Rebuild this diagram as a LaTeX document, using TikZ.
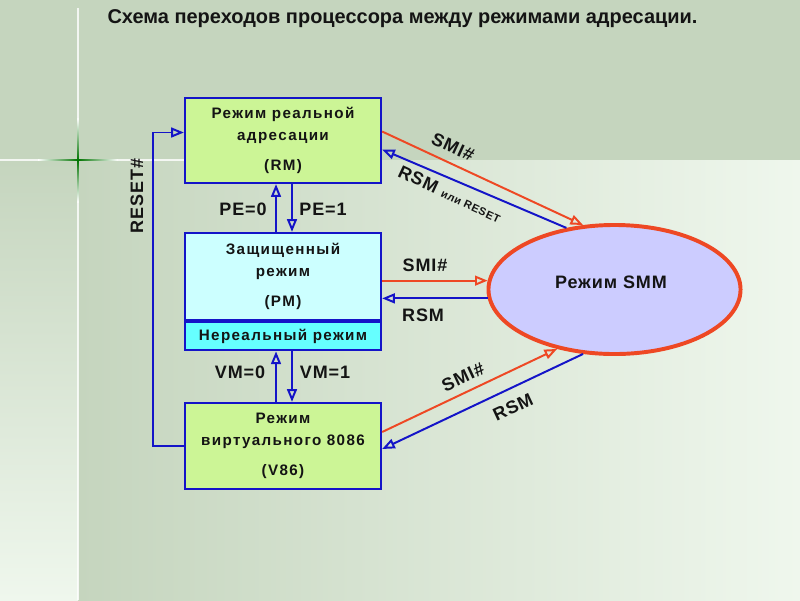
\documentclass[tikz,border=0pt]{standalone}
\usepackage{fontspec}
\setmainfont{Liberation Sans}
\newfontfamily\wideface{Liberation Sans}[LetterSpace=9]
\newfontfamily\tagface{Liberation Sans}[LetterSpace=5]
\usepackage{tikz}
\usetikzlibrary{positioning, arrows.meta, shapes.geometric, calc}
\definecolor{slide}{RGB}{197,213,190}
\definecolor{pale}{RGB}{239,247,237}
\definecolor{lime}{RGB}{204,245,150}
\definecolor{ice}{RGB}{204,255,255}
\definecolor{aqua}{RGB}{102,255,255}
\definecolor{edge}{RGB}{20,20,200}
\definecolor{hot}{RGB}{238,72,36}
\definecolor{lilac}{RGB}{204,204,255}
\definecolor{ink}{RGB}{20,20,20}

\begin{document}
\begin{tikzpicture}[
  x=0.025cm, y=-0.025cm,
  mode/.style={draw=edge, line width=1.6pt, minimum width=4.9cm, inner sep=0pt,
               align=center, text=ink,
               font=\wideface\bfseries\fontsize{10.8}{15.6}\selectfont},
  tag/.style={text=ink, font=\tagface\bfseries\fontsize{12.8}{15}\selectfont},
  blueline/.style={draw=edge, line width=1.4pt, -{Triangle[open, length=9pt, width=7pt]}},
  redline/.style={draw=hot, line width=1.4pt, -{Triangle[open, length=9pt, width=7pt]}},
]
  % slide background
  \useasboundingbox (0,0) rectangle (800,600);
  \fill[slide] (0,0) rectangle (800,160);
  \shade[left color=slide, middle color=slide!40!pale, right color=pale] (78,160) rectangle (800,600);
  \shade[top color=slide, bottom color=pale] (0,160) rectangle (78,600);
  \draw[white, line width=0.8pt, opacity=0.8] (78,8) -- (78,600);
  \draw[white, line width=0.8pt, opacity=0.8] (0,160) -- (185,160);
  \shade[left color=white, right color=white, middle color=green!45!black] (38,159.3) rectangle (118,160.7);
  \shade[top color=white, bottom color=white, middle color=green!45!black] (77.3,118) rectangle (78.7,202);

  \node[text=ink, font=\bfseries\fontsize{14.2}{17}\selectfont] (title) at (402.5,19)
    {Схема переходов процессора между режимами адресации.};

  % modes
  \node[mode, fill=lime, minimum height=2.125cm] (rm) at (283,140.5)
    {Режим реальной\\ адресации\\[5.7pt] (RM)};
  \node[mode, fill=ice, minimum height=2.175cm] (pm) at (283,276.5)
    {Защищенный\\ режим\\[5.7pt] (PM)};
  \node[mode, fill=aqua, minimum height=0.7cm, anchor=north] (unreal) at (pm.south)
    {Нереальный режим};
  \node[mode, fill=lime, minimum height=2.15cm] (v86) at (283,446)
    {Режим\\ виртуального 8086\\[5.7pt] (V86)};
  \node[ellipse, draw=hot, line width=2.8pt, fill=lilac, inner sep=0pt,
        minimum width=6.3cm, minimum height=3.225cm] (smm) at (614.5,289.5) {};
  \node[tag] (smmname) at (611,282) {Режим SMM};

  % PE and VM switching
  \draw[blueline] ($(pm.north)+(-7,0)$) -- ($(rm.south)+(-7,0)$);
  \draw[blueline] ($(rm.south)+(9,0)$) -- ($(pm.north)+(9,0)$);
  \draw[blueline] ($(v86.north)+(-7,0)$) -- ($(unreal.south)+(-7,0)$);
  \draw[blueline] ($(unreal.south)+(9,0)$) -- ($(v86.north)+(9,0)$);
  \node[tag] (pezero) at (243,209) {PE=0};
  \node[tag] (peone) at (323,209) {PE=1};
  \node[tag] (vmzero) at (240,372) {VM=0};
  \node[tag] (vmone) at (325,372) {VM=1};

  % reset loop
  \draw[blueline] (v86.west) -- ++(-31,0) |- ($(rm.west)+(0,-8)$);
  \node[tag, rotate=90] (resetname) at (137,196) {RESET\#};

  % SMM entry and exit
  \draw[redline] ($(rm.east)+(0,-9)$) -- (smm.116);
  \draw[blueline] (smm.128) -- ($(rm.east)+(0,9)$);
  \draw[redline] (pm.east |- smm.176) -- (smm.176);
  \draw[blueline] (smm.184) -- (pm.east |- smm.184);
  \draw[redline] ($(v86.east)+(0,-14)$) -- (smm.226);
  \draw[blueline] (smm.244) -- ($(v86.east)+(0,3)$);
  \node[tag, rotate=-25] (smitop) at (453,147) {SMI\#};
  \node[tag, rotate=-25] (rsmtop) at (450,194) {RSM {\fontsize{7.8}{9}\selectfont или RESET}};
  \node[tag] (smimid) at (425,265) {SMI\#};
  \node[tag] (rsmmid) at (423,315) {RSM};
  \node[tag, rotate=25] (smilow) at (463,377) {SMI\#};
  \node[tag, rotate=25] (rsmlow) at (513,407) {RSM};
\end{tikzpicture}
\end{document}
